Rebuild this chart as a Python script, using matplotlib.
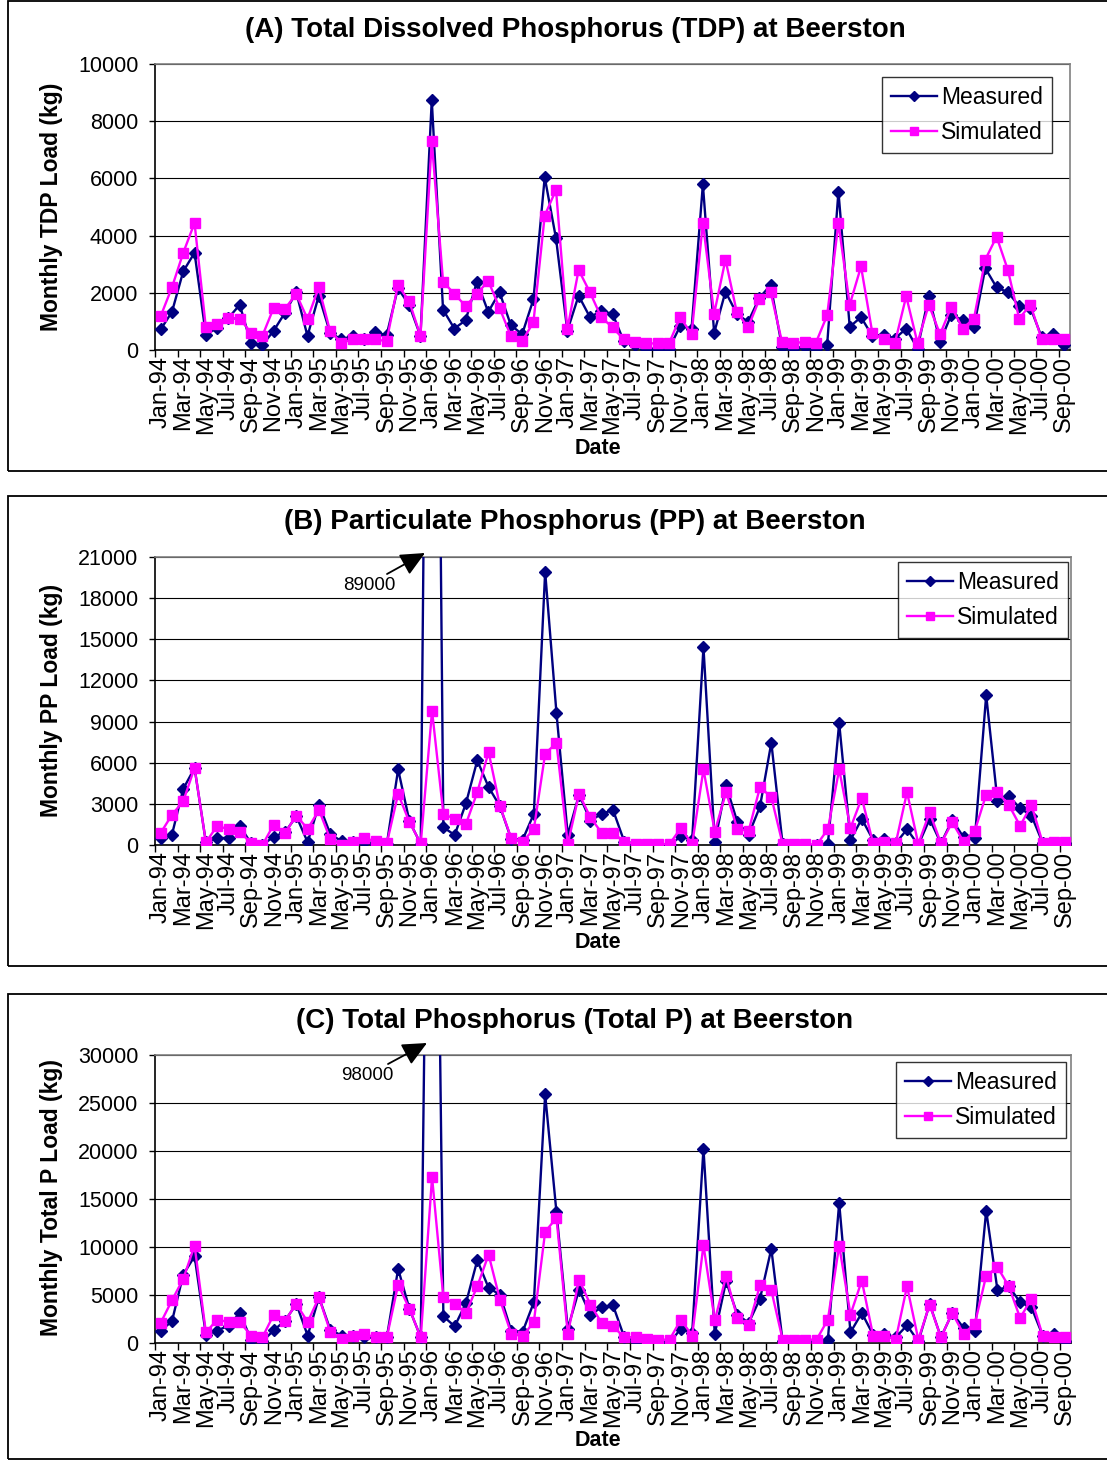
import matplotlib as mpl
import matplotlib.pyplot as plt
import matplotlib.patches as patches
import numpy as np
import pandas as pd

mpl.rcParams['font.family'] = ['Liberation Sans', 'DejaVu Sans']
mpl.rcParams['xtick.direction'] = 'out'
mpl.rcParams['ytick.direction'] = 'out'

# monthly loads at Beerston, Jan-94 .. Sep-00 (kg)
months = pd.date_range('1994-01-01', periods=81, freq='MS').strftime('%b-%y').tolist()

tdp_meas = [720, 1330, 2750, 3400, 540, 770, 1120, 1580, 230, 170,
            670, 1300, 2020, 490, 1900, 600, 370, 490, 370, 640,
            510, 2160, 1580, 490, 8740, 1410, 750, 1040, 2390, 1330,
            2020, 870, 550, 1770, 6040, 3900, 670, 1900, 1150, 1360,
            1270, 310, 170, 50, 50, 50, 840, 750, 5790, 600,
            2040, 1270, 980, 1820, 2270, 120, 50, 120, 50, 170,
            5540, 810, 1150, 490, 540, 400, 750, 50, 1880, 290,
            1240, 1040, 810, 2860, 2190, 2020, 1540, 1480, 440, 550,
            170]
tdp_sim = [1180, 2190, 3400, 4440, 790, 920, 1120, 1100, 600, 490,
           1470, 1440, 1960, 1090, 2190, 660, 250, 370, 370, 370,
           310, 2270, 1710, 490, 7310, 2390, 1960, 1540, 1960, 2420,
           1470, 490, 310, 970, 4700, 5600, 720, 2800, 2020, 1150,
           790, 370, 290, 230, 230, 230, 1150, 550, 4440, 1270,
           3160, 1330, 790, 1770, 2020, 290, 230, 290, 250, 1210,
           4440, 1580, 2920, 600, 370, 250, 1880, 250, 1580, 550,
           1520, 750, 1100, 3160, 3960, 2800, 1100, 1580, 370, 370,
           370]

pp_meas = [510, 760, 4100, 5610, 200, 510, 510, 1390, 120, 0,
           610, 930, 2100, 200, 2950, 800, 270, 200, 200, 0,
           70, 5510, 1730, 70, 89000, 1290, 730, 3050, 6170, 4220,
           2830, 440, 370, 2270, 19930, 9630, 730, 3680, 1780, 2270,
           2560, 240, 0, 0, 0, 0, 630, 390, 14420, 200,
           4340, 1660, 760, 2810, 7460, 70, 0, 0, 0, 70,
           8900, 370, 1900, 370, 440, 120, 1150, 0, 1900, 120,
           1830, 560, 510, 10930, 3200, 3560, 2680, 2150, 150, 150,
           150]
pp_sim = [880, 2200, 3200, 5630, 200, 1390, 1150, 980, 120, 0,
          1490, 880, 2150, 1170, 2560, 420, 0, 240, 510, 270,
          120, 3730, 1660, 120, 9780, 2270, 1900, 1540, 3850, 6780,
          2830, 510, 240, 1150, 6660, 7440, 70, 3730, 2020, 880,
          880, 240, 70, 70, 70, 70, 1240, 70, 5510, 980,
          3850, 1150, 1050, 4220, 3490, 70, 70, 70, 0, 1150,
          5510, 1240, 3440, 120, 240, 120, 3850, 70, 2390, 120,
          1660, 240, 1050, 3680, 3850, 2930, 1390, 2930, 150, 240,
          240]

tp_meas = [1290, 2260, 7130, 9040, 870, 1290, 1810, 3130, 350, 170,
           1320, 2330, 4070, 770, 4760, 1390, 770, 700, 590, 590,
           590, 7720, 3550, 590, 98000, 2780, 1740, 4170, 8620, 5740,
           5040, 1290, 1150, 4240, 25900, 13630, 1500, 5560, 2960, 3720,
           3930, 590, 170, 170, 170, 0, 1500, 1040, 20240, 940,
           6430, 2960, 2090, 4620, 9810, 170, 0, 170, 240, 350,
           14600, 1110, 3130, 870, 940, 590, 1840, 170, 4070, 590,
           3130, 1570, 1290, 13800, 5490, 5910, 4240, 3720, 770, 970,
           170]
tp_sim = [2090, 4450, 6680, 10150, 1110, 2430, 2190, 2190, 770, 590,
          2960, 2330, 4070, 2190, 4760, 1150, 420, 770, 940, 590,
          590, 6090, 3550, 590, 17280, 4760, 4070, 3130, 5910, 9210,
          4520, 970, 700, 2190, 11580, 13040, 970, 6610, 4000, 2090,
          1740, 590, 590, 420, 350, 350, 2430, 770, 10190, 2360,
          6950, 2610, 1840, 6020, 5490, 350, 350, 350, 350, 2430,
          10150, 2960, 6500, 770, 770, 350, 5910, 350, 4000, 590,
          3130, 940, 2020, 7020, 7890, 5910, 2610, 4590, 770, 590,
          590]

W, H = 1107, 1461
fig = plt.figure(figsize=(W / 100, H / 100), dpi=100)

navy = '#000080'
magenta = '#FF00FF'


def px_axes(l, t, r, b):
    return fig.add_axes([l / W, 1 - b / H, (r - l) / W, (b - t) / H])


def frame(t, b):
    fig.patches.append(patches.Rectangle((8 / W, 1 - b / H), 1.2, (b - t) / H,
                                         transform=fig.transFigure, fill=False,
                                         ec='black', lw=1.3))


def panel(box, meas, sim, ymax, ystep, title, ylabel, leg_rt, ypos):
    l, t, r, b = box
    ax = px_axes(l, t, r, b)
    x = np.arange(len(months))
    ax.plot(x, meas, color=navy, lw=1.7, marker='D', ms=6.5, mec=navy,
            label='Measured', zorder=3)
    ax.plot(x, sim, color=magenta, lw=1.7, marker='s', ms=7.5, mec=magenta,
            label='Simulated', zorder=4)
    ax.set_xlim(-0.5, len(months) - 0.5)
    ax.set_ylim(0, ymax)
    ax.set_yticks(np.arange(0, ymax + 1, ystep))
    ax.set_yticklabels([str(v) for v in np.arange(0, ymax + 1, ystep)])
    ax.yaxis.grid(True, color='black', lw=0.8)
    ax.set_axisbelow(True)
    # ticks between every second month, labels on the months themselves
    ax.set_xticks(np.arange(-0.5, len(months) - 1, 2))
    ax.set_xticklabels([])
    ax.set_xticks(x[::2], minor=True)
    ax.set_xticklabels(months[::2], minor=True, rotation=90, fontsize=17)
    ax.tick_params(axis='x', which='major', length=5, width=1)
    ax.tick_params(axis='x', which='minor', length=0, pad=4)
    ax.tick_params(axis='y', length=4, width=1, pad=8, labelsize=15.5)
    for s in ['top', 'right']:
        ax.spines[s].set_color('#808080')
        ax.spines[s].set_linewidth(1.2)
    for s in ['left', 'bottom']:
        ax.spines[s].set_linewidth(1.2)
    leg = ax.legend(loc='upper right', bbox_to_anchor=(leg_rt[0] / W, 1 - leg_rt[1] / H),
                    bbox_transform=fig.transFigure, fontsize=16.5, frameon=True,
                    fancybox=False, edgecolor='black', handlelength=2.0,
                    handletextpad=0.2, labelspacing=0.55, borderpad=0.38,
                    borderaxespad=0, markerscale=0.8)
    leg.get_frame().set_linewidth(1.0)
    ty, dy, ly = ypos
    fig.text(575 / W, 1 - ty / H, title, ha='center', va='center',
             fontsize=20, fontweight='bold')
    fig.text(598 / W, 1 - dy / H, 'Date', ha='center', va='center',
             fontsize=15.5, fontweight='bold')
    fig.text(52 / W, 1 - ly / H, ylabel, ha='center', va='center',
             rotation=90, fontsize=16.5, fontweight='bold')
    return ax


def peak_note(value, tip, tail, txt):
    arrow = dict(arrowstyle='-|>,head_length=0.75,head_width=0.35',
                 mutation_scale=20, shrinkA=0, shrinkB=0, lw=1.3, color='black')
    fig.add_artist(mpl.patches.FancyArrowPatch((tail[0] / W, 1 - tail[1] / H),
                                               (tip[0] / W, 1 - tip[1] / H),
                                               transform=fig.transFigure, **arrow))
    fig.text(txt[0] / W, 1 - txt[1] / H, str(value), ha='center', va='center',
             fontsize=13.5)


frame(1, 471)
frame(496, 966)
frame(994, 1459)

panel((155, 64, 1070, 350), tdp_meas, tdp_sim, 10000, 2000,
      '(A) Total Dissolved Phosphorus (TDP) at Beerston',
      'Monthly TDP Load (kg)', (1052, 77), (30, 448, 207))
panel((155, 557, 1071, 845), pp_meas, pp_sim, 21000, 3000,
      '(B) Particulate Phosphorus (PP) at Beerston',
      'Monthly PP Load (kg)', (1068, 562), (522, 943, 700))
panel((155, 1055, 1071, 1343), tp_meas, tp_sim, 30000, 5000,
      '(C) Total Phosphorus (Total P) at Beerston',
      'Monthly Total P Load (kg)', (1066, 1062), (1021, 1441, 1197))

peak_note(max(pp_meas), (425, 553), (387, 574), (369, 586))
peak_note(max(tp_meas), (427, 1043), (388, 1064), (367, 1076))

fig.savefig('out.png', dpi=100)
